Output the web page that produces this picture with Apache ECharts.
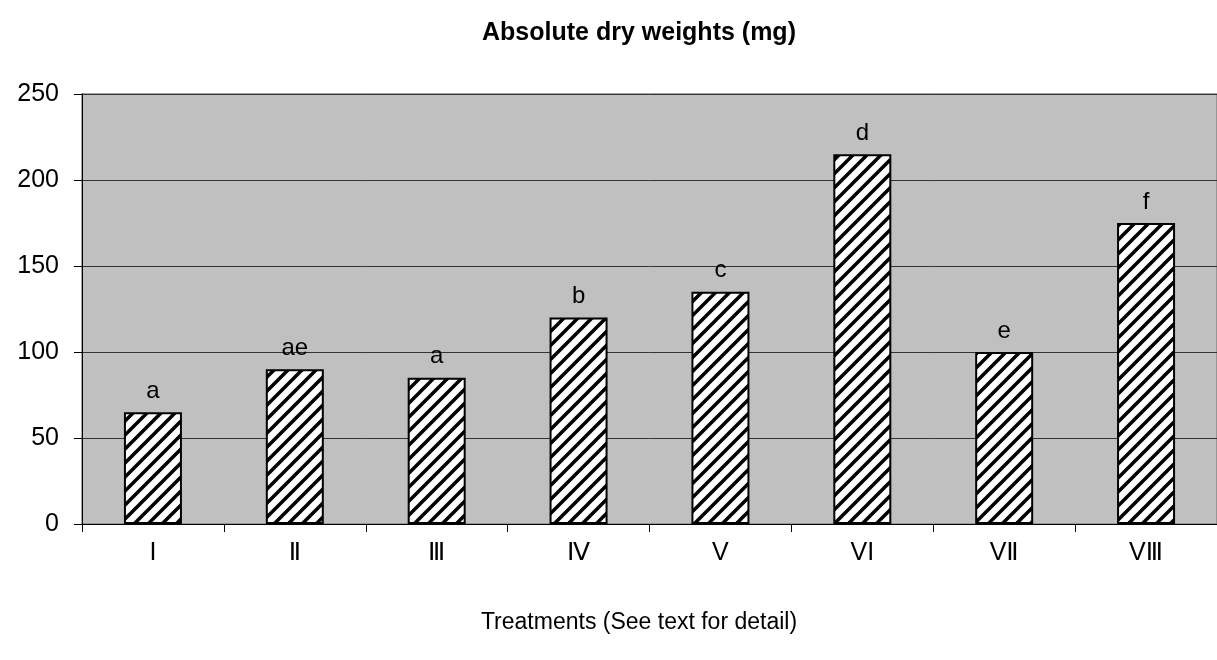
<!DOCTYPE html>
<html>
<head>
<meta charset="utf-8">
<script src="https://cdn.jsdelivr.net/npm/echarts@6/dist/echarts.min.js"></script>
<style>
html,body{margin:0;padding:0;background:#fff;}
#chart{width:1217px;height:660px;}
</style>
</head>
<body>
<div id="chart"></div>
<script>
const categories = ['I', 'Ⅱ', 'Ⅲ', 'Ⅳ', 'V', 'VI', 'VⅡ', 'VⅢ'];
const values = [65, 90, 85, 120, 135, 215, 100, 175];
const letters = ['a', 'ae', 'a', 'b', 'c', 'd', 'e', 'f'];
const yTicks = { min: 0, max: 250, interval: 50 };
const titleText = 'Absolute dry weights (mg)';
const xAxisTitle = 'Treatments (See text for detail)';

const FONT = '"Liberation Sans", Arial, "DejaVu Sans", sans-serif';

// hatch pattern
const pat = document.createElement('canvas');
const P = 14;
pat.width = P; pat.height = P;
const g = pat.getContext('2d');
g.fillStyle = '#fff';
g.fillRect(0, 0, P, P);
g.strokeStyle = '#000';
g.lineWidth = 3.5;
g.beginPath();
g.moveTo(-P, 2 * P); g.lineTo(2 * P, -P);
g.moveTo(-P, P); g.lineTo(P, -P);
g.moveTo(0, 2 * P); g.lineTo(2 * P, 0);
g.stroke();

const chart = echarts.init(document.getElementById('chart'), null, { renderer: 'canvas' });
chart.setOption({
  animation: false,
  backgroundColor: '#fff',
  textStyle: { fontFamily: FONT },
  graphic: [
    { type: 'text', x: 639, y: 33, style: { text: titleText, textAlign: 'center', textVerticalAlign: 'middle', font: 'bold 25px ' + FONT, fill: '#000' } },
    { type: 'text', x: 639, y: 623, style: { text: xAxisTitle, textAlign: 'center', textVerticalAlign: 'middle', font: '23px ' + FONT, fill: '#000' } }
  ],
  grid: {
    left: 82, top: 94, bottom: 136, right: -6,
    show: true, backgroundColor: '#c0c0c0', borderColor: '#888', borderWidth: 1.5
  },
  xAxis: {
    type: 'category',
    data: categories,
    axisLine: { lineStyle: { color: '#000', width: 1 } },
    axisTick: { show: true, length: 8, lineStyle: { color: '#000' } },
    axisLabel: { color: '#000', fontSize: 25, margin: 17, fontFamily: FONT },
    splitLine: { show: false }
  },
  yAxis: {
    type: 'value',
    min: yTicks.min, max: yTicks.max, interval: yTicks.interval,
    axisLine: { show: true, lineStyle: { color: '#000', width: 1 } },
    axisTick: { show: true, length: 8, lineStyle: { color: '#000' } },
    axisLabel: { color: '#000', fontSize: 25, margin: 23, fontFamily: FONT },
    splitLine: { show: true, lineStyle: { color: '#333', width: 1 } }
  },
  series: [{
    type: 'bar',
    data: values,
    barWidth: 58,
    itemStyle: { color: { image: pat, repeat: 'repeat' }, borderColor: '#000', borderWidth: 2 },
    label: {
      show: true, position: 'top', distance: 9,
      color: '#000', fontSize: 24, fontFamily: FONT,
      formatter: p => letters[p.dataIndex]
    }
  }]
});
</script>
</body>
</html>
